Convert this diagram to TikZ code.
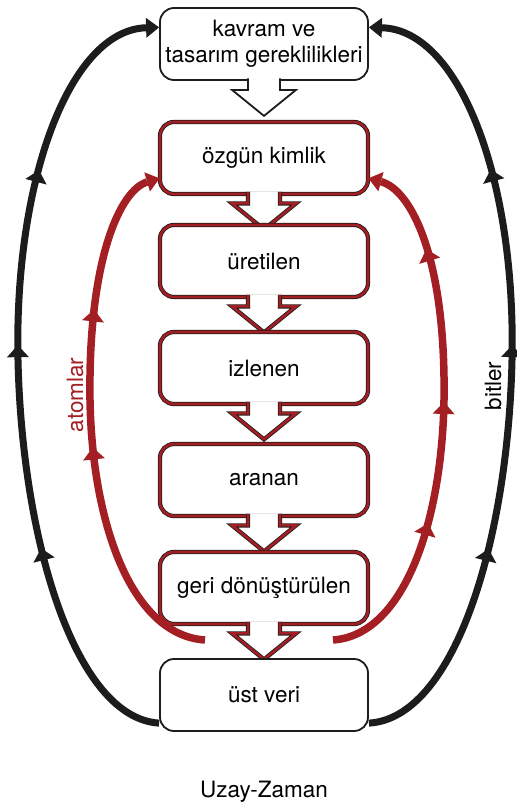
\documentclass[tikz,border=0pt]{standalone}
\usepackage{fontspec}
\setmainfont{TeX Gyre Heros}
\usetikzlibrary{arrows.meta,decorations.markings}
\definecolor{atomred}{RGB}{163,31,36}
\definecolor{bitblack}{RGB}{28,28,28}
\newcommand\midtip{\fill (6pt,0pt) -- (-6pt,11pt) -- (-6pt,-11pt) -- cycle;}

\begin{document}
\begin{tikzpicture}[x=1pt,y=-1pt,
  stage/.style={minimum width=208pt,minimum height=72pt,inner sep=0pt,align=center,
    rounded corners=14pt,fill=white,draw=bitblack,line width=1.8pt,
    font=\fontsize{22.5}{26}\selectfont},
  redstage/.style={stage,double=atomred,double distance=2.6pt,line width=0.8pt},
  pointer/.style={fill=white,draw=bitblack,line width=1.8pt,line join=miter},
  redpointer/.style={pointer,double=atomred,double distance=2.6pt,line width=0.8pt},
  bitline/.style={color=bitblack,line width=7pt,-{Triangle[length=13pt,width=20pt,line width=0pt]},postaction=decorate},
  atomline/.style={bitline,color=atomred,line width=7.5pt},
  sidetext/.style={font=\fontsize{22.5}{26}\selectfont}]
\useasboundingbox (0,0) rectangle (517,809);

% boxes, top to bottom
\node[stage] (req) at (264,44) {kavram ve\\tasarım gereklilikleri};
\draw[pointer] ([xshift=-16pt,yshift=2.6pt]req.south) -- ++(0,11.6) -- ++(-16,0) -- ++(32,26) -- ++(32,-26) -- ++(-16,0) -- ++(0,-11.6);
\foreach \b/\y/\t in {kimlik/158/özgün kimlik,uretilen/261/üretilen,izlenen/368/izlenen,aranan/480/aranan,geri/588/geri dönüştürülen}{
  \node[redstage] (\b) at (264,\y) {\t};
  \draw[redpointer] ([xshift=-16pt,yshift=2.6pt]\b.south) -- ++(0,11.6) -- ++(-16,0) -- ++(32,26) -- ++(32,-26) -- ++(-16,0) -- ++(0,-11.6);
}
\node[stage] (meta) at (264,695) {üst veri};

% outer loops (bitler)
\draw[bitline,decoration={markings,mark=at position 0.27 with {\midtip},mark=at position 0.525 with {\midtip},mark=at position 0.745 with {\midtip}}]
  (meta.195) .. controls (75,718) and (22,540) .. (18,360) .. controls (14,180) and (70,30) .. (req.171);
\draw[bitline,decoration={markings,mark=at position 0.27 with {\midtip},mark=at position 0.525 with {\midtip},mark=at position 0.745 with {\midtip}}]
  (meta.345) .. controls (455,718) and (508,540) .. (512,360) .. controls (516,180) and (460,30) .. (req.9);

% inner loops (atomlar)
\coordinate (atomL) at (205,640);
\coordinate (atomR) at (333,640);
\draw[atomline,decoration={markings,mark=at position 0.44 with {\midtip},mark=at position 0.70 with {\midtip}}]
  (atomL) .. controls (130,635) and (92,520) .. (90,400) .. controls (88,260) and (120,190) .. (kimlik.191);
\draw[atomline,decoration={markings,mark=at position 0.29 with {\midtip},mark=at position 0.52 with {\midtip},mark=at position 0.81 with {\midtip}}]
  (atomR) .. controls (405,635) and (442,520) .. (444,400) .. controls (446,260) and (412,190) .. (kimlik.349);

\node[sidetext,rotate=90] (bits) at (493,386) {bitler};
\node[sidetext,rotate=90,text=atomred] (atoms) at (75,395) {atomlar};
\node[sidetext] (spacetime) at (264,792) {Uzay-Zaman};
\end{tikzpicture}
\end{document}
